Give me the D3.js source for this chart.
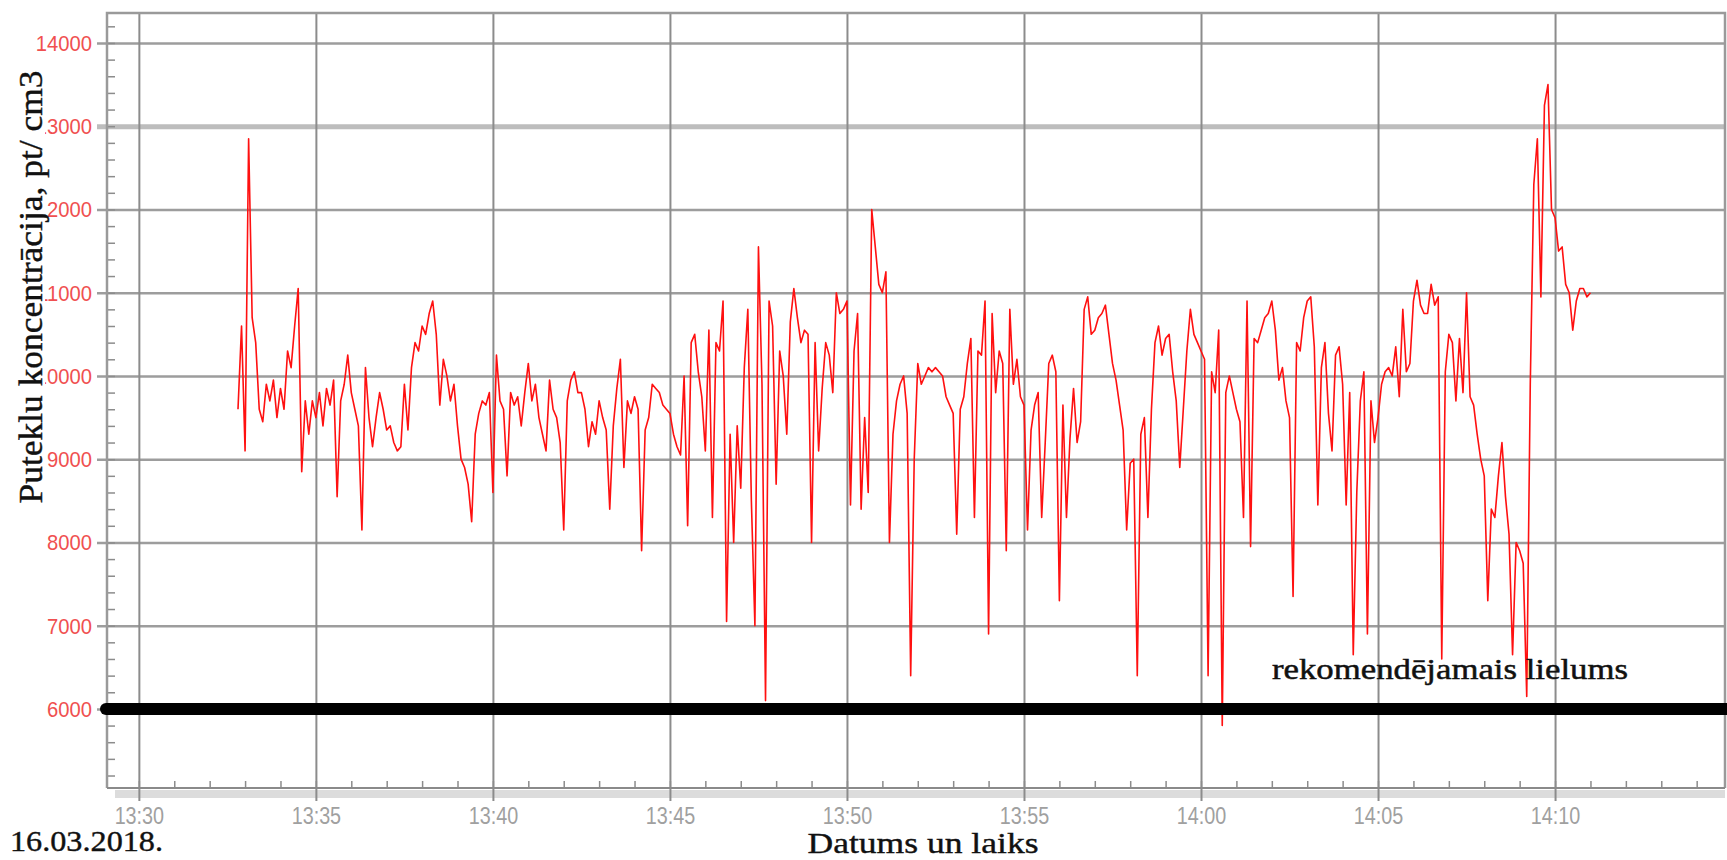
<!DOCTYPE html>
<html>
<head>
<meta charset="utf-8">
<script src="https://cdnjs.cloudflare.com/ajax/libs/d3/7.8.5/d3.min.js"></script>
<style>
    body { margin: 0; background: #fff; }
    svg { display: block; }
</style>
</head>
<body>
<div id="chart-holder"></div>
<script>
// measurement: dust particle concentration, one reading every 6 seconds
var measureDate = '16.03.2018.';
var startTime = '2018-03-16T13:32:48';
var sampleSeconds = 6;

// pt/cm3
var concentration = [
    9600, 10600, 9100, 12850, 10700, 10400, 9600, 9450, 9900, 9700,
    9950, 9500, 9850, 9600, 10300, 10100, 10600, 11050, 8850, 9700,
    9300, 9700, 9500, 9800, 9400, 9850, 9650, 9950, 8550, 9700,
    9900, 10250, 9800, 9600, 9400, 8150, 10100, 9500, 9150, 9500,
    9800, 9600, 9350, 9400, 9200, 9100, 9150, 9900, 9350, 10100,
    10400, 10300, 10600, 10500, 10750, 10900, 10500, 9650, 10200, 10000,
    9700, 9900, 9400, 9000, 8900, 8700, 8250, 9300, 9550, 9700,
    9650, 9800, 8600, 10250, 9700, 9600, 8800, 9800, 9650, 9750,
    9400, 9800, 10150, 9700, 9900, 9500, 9300, 9100, 9950, 9600,
    9500, 9200, 8150, 9700, 9950, 10050, 9800,
    9800, 9600, 9150, 9450, 9300, 9700, 9500, 9350, 8400, 9400,
    9850, 10200, 8900, 9700, 9550, 9750, 9600, 7900, 9350, 9500,
    9900, 9850, 9800, 9650, 9600, 9550, 9300, 9150, 9050, 10000,
    8200, 10400, 10500, 10050, 9750, 9100, 10550, 8300, 10400, 10300,
    10900, 7050, 9300, 8000, 9400, 8650, 10100, 10800, 8500, 7000,
    11550, 9900, 6100, 10900, 10600, 8700, 10300, 10000, 9300, 10650,
    11050, 10700, 10400, 10550, 10500, 8000, 10400, 9100, 9850, 10400,
    10250, 9800, 11000, 10750, 10800, 10900, 8450, 10300, 10750, 8400,
    9500, 8600, 12000, 11550, 11100, 11000, 11250, 8000, 9300, 9700,
    9900, 10000, 9550, 6400, 9000, 10150,
    9900, 10000, 10100, 10050, 10100, 10050, 10000, 9750, 9650, 9550,
    8100, 9600, 9750, 10150, 10450, 8300, 10300, 10250, 10900, 6900,
    10750, 9800, 10300, 10150, 7900, 10800, 9900, 10200, 9750, 9650,
    8150, 9350, 9650, 9800, 8300, 9200, 10150, 10250, 10050, 7300,
    9650, 8300, 9250, 9850, 9200, 9450, 10800, 10950, 10500, 10550,
    10700, 10750, 10850, 10500, 10150, 9950, 9650, 9350, 8150, 8950,
    9000, 6400, 9300, 9500, 8300, 9600, 10400, 10600, 10250, 10450,
    10500, 10050, 9700, 8900, 9600, 10300, 10800, 10500, 10400, 10300,
    10200, 6400, 10050, 9800, 10550, 5800, 9800, 10000, 9800, 9600,
    9450, 8300, 10900, 7950, 10450, 10400, 10550, 10700, 10750,
    10900, 10550, 9950, 10100, 9700, 9500, 7350, 10400, 10300, 10700,
    10900, 10950, 10350, 8450, 10100, 10400, 9550, 9100, 10250, 10350,
    9900, 8450, 9800, 6650, 8600, 9700, 10050, 6900, 9700, 9200,
    9500, 9900, 10050, 10100, 10000, 10350, 9750, 10800, 10050, 10150,
    10900, 11150, 10850, 10750, 10750, 11100, 10850, 10950, 6600, 10050,
    10500, 10400, 9700, 10450, 9800, 11000, 9750, 9650, 9300, 9000,
    8800, 7300, 8400, 8300, 8800, 9200, 8550, 8100, 6650, 8000,
    7900, 7750, 6150, 9900, 12300, 12850, 10950, 13250, 13500, 12000,
    11900, 11500, 11550, 11100, 11000, 10550, 10900, 11050, 11050, 10950,
    11000
];

// axis set-up
var yTicks = [6000, 7000, 8000, 9000, 10000, 11000, 12000, 13000, 14000];
var yView = [5050, 14360];
var timeView = ['2018-03-16T13:29:06', '2018-03-16T14:14:48'];
var recommendedLevel = 6000;

// texts
var xTitle = 'Datums un laiks';
var yTitle = 'Puteklu koncentrācija, pt/ cm3';
var levelLabel = 'rekomendējamais lielums';

function buildChart(containerId) {
    // size globals
    var width = 1727;
    var height = 860;

    var plot = {
        left: 107,
        right: 1725,
        top: 13,
        bottom: 788
    };

    var svg = d3
        .select(containerId)
        .append('svg')
        .attr('width', width)
        .attr('height', height)
        .style('background', '#fff');

    var parseTime = d3.timeParse('%Y-%m-%dT%H:%M:%S');
    var t0 = parseTime(startTime);

    var data = concentration.map(function(v, i) {
        return { time: new Date(t0.getTime() + i * sampleSeconds * 1000), value: v };
    });

    // scales
    var x = d3
        .scaleTime()
        .domain(timeView.map(parseTime))
        .range([plot.left, plot.right]);

    var y = d3
        .scaleLinear()
        .domain(yView)
        .range([plot.bottom, plot.top]);

    var sans = "'Liberation Sans', Arial, sans-serif";
    var serif = "'Liberation Serif', 'Times New Roman', serif";

    // light band under the time axis
    svg
        .append('rect')
        .attr('x', plot.left + 8)
        .attr('y', plot.bottom + 2)
        .attr('width', plot.right - plot.left - 8)
        .attr('height', 8)
        .attr('fill', '#dcdcdc');

    // horizontal grid
    svg
        .append('g')
        .attr('class', 'y-grid')
        .attr('transform', 'translate(' + (plot.left - 10) + ',0)')
        .call(
            d3.axisRight(y)
                .tickValues(yTicks)
                .tickSize(plot.right - plot.left + 10)
                .tickFormat('')
        )
        .call(function(g) {
            g.select('.domain').remove();
            g.selectAll('line')
                .attr('stroke', function(d) { return d === 13000 ? '#bdbdbd' : '#9d9d9d'; })
                .attr('stroke-width', function(d) { return d === 13000 ? 5 : 2.5; });
        });

    // vertical grid, one line every 5 minutes
    svg
        .append('g')
        .attr('class', 'x-grid')
        .attr('transform', 'translate(0,' + plot.top + ')')
        .call(
            d3.axisBottom(x)
                .ticks(d3.timeMinute.every(5))
                .tickSize(plot.bottom - plot.top + 13)
                .tickFormat('')
        )
        .call(function(g) {
            g.select('.domain').remove();
            g.selectAll('line').attr('stroke', '#8c8c8c').attr('stroke-width', 2);
        });

    // minor ticks on time axis, every minute
    svg
        .append('g')
        .attr('class', 'x-minor')
        .attr('transform', 'translate(0,' + plot.bottom + ')')
        .call(d3.axisTop(x).ticks(d3.timeMinute.every(1)).tickSize(7).tickFormat(''))
        .call(function(g) {
            g.select('.domain').remove();
            g.selectAll('line').attr('stroke', '#8c8c8c').attr('stroke-width', 1.5);
        });

    // minor ticks on value axis, every 200
    svg
        .append('g')
        .attr('class', 'y-minor')
        .attr('transform', 'translate(' + plot.left + ',0)')
        .call(
            d3.axisRight(y)
                .tickValues(d3.range(5200, 14360, 200))
                .tickSize(8)
                .tickFormat('')
        )
        .call(function(g) {
            g.select('.domain').remove();
            g.selectAll('line').attr('stroke', '#8c8c8c').attr('stroke-width', 1.5);
        });

    // frame
    svg
        .append('path')
        .attr('d', 'M' + plot.left + ',' + plot.bottom + 'V' + plot.top + 'H' + plot.right + 'V' + plot.bottom)
        .attr('fill', 'none')
        .attr('stroke', '#9a9a9a')
        .attr('stroke-width', 2.5);

    svg
        .append('line')
        .attr('x1', plot.left)
        .attr('x2', plot.right)
        .attr('y1', plot.bottom)
        .attr('y2', plot.bottom)
        .attr('stroke', '#8a8a8a')
        .attr('stroke-width', 2);

    // value labels (slightly condensed like the original)
    svg
        .append('g')
        .attr('class', 'y-labels')
        .selectAll('text')
        .data(yTicks)
        .enter()
        .append('text')
        .attr('transform', function(d) {
            return 'translate(' + (plot.left - 15) + ',' + y(d) + ') scale(0.92,1)';
        })
        .attr('dy', '0.36em')
        .attr('text-anchor', 'end')
        .style('font-family', sans)
        .style('font-size', '22px')
        .attr('fill', '#f05050')
        .text(function(d) { return d; });

    // time labels
    svg
        .append('g')
        .attr('class', 'x-labels')
        .attr('transform', 'translate(0,' + plot.bottom + ')')
        .call(
            d3.axisBottom(x)
                .ticks(d3.timeMinute.every(5))
                .tickSize(0)
                .tickPadding(20)
                .tickFormat(d3.timeFormat('%H:%M'))
        )
        .call(function(g) {
            g.select('.domain').remove();
            g.selectAll('text')
                .attr('fill', '#a0a0a0')
                .attr('transform', 'scale(0.86,1)')
                .style('font-family', sans)
                .style('font-size', '23px');
        });

    // measured series
    var line = d3
        .line()
        .x(function(d) { return x(d.time); })
        .y(function(d) { return y(d.value); });

    svg
        .append('path')
        .datum(data)
        .attr('class', 'series')
        .attr('fill', 'none')
        .attr('stroke', '#ff1010')
        .attr('stroke-width', 1.6)
        .attr('stroke-linejoin', 'round')
        .attr('d', line);

    // recommended level
    svg
        .append('line')
        .attr('x1', plot.left - 1)
        .attr('x2', width + 10)
        .attr('y1', y(recommendedLevel))
        .attr('y2', y(recommendedLevel))
        .attr('stroke', '#000')
        .attr('stroke-width', 12)
        .attr('stroke-linecap', 'round');

    svg
        .append('text')
        .attr('x', 1272)
        .attr('y', y(recommendedLevel) - 30)
        .style('font-family', serif)
        .style('font-size', '30px')
        .attr('textLength', 356)
        .attr('lengthAdjust', 'spacingAndGlyphs')
        .attr('fill', '#111')
        .attr('stroke', '#111')
        .attr('stroke-width', 0.5)
        .text(levelLabel);

    // axis titles
    svg
        .append('text')
        .attr('x', 923)
        .attr('y', 853)
        .attr('text-anchor', 'middle')
        .style('font-family', serif)
        .style('font-size', '30px')
        .attr('textLength', 231)
        .attr('lengthAdjust', 'spacingAndGlyphs')
        .attr('fill', '#111')
        .attr('stroke', '#111')
        .attr('stroke-width', 0.4)
        .text(xTitle);

    svg
        .append('text')
        .attr('x', 10)
        .attr('y', 851)
        .style('font-family', serif)
        .style('font-size', '30px')
        .attr('textLength', 153)
        .attr('lengthAdjust', 'spacingAndGlyphs')
        .attr('fill', '#111')
        .attr('stroke', '#111')
        .attr('stroke-width', 0.4)
        .text(measureDate);

    var yTitleG = svg
        .append('g')
        .attr('transform', 'translate(42,287) rotate(-90)');

    var yTitleBox = yTitleG.append('rect').attr('fill', '#fff');

    var yTitleText = yTitleG
        .append('text')
        .attr('text-anchor', 'middle')
        .style('font-family', serif)
        .style('font-size', '34px')
        .attr('textLength', 433)
        .attr('lengthAdjust', 'spacingAndGlyphs')
        .attr('fill', '#111')
        .attr('stroke', '#111')
        .attr('stroke-width', 0.4)
        .text(yTitle);

    // white box behind the title hides the leading digit of the labels it crosses
    var bb = yTitleText.node().getBBox();
    yTitleBox
        .attr('x', bb.x)
        .attr('y', bb.y + 4)
        .attr('width', bb.width)
        .attr('height', 3 - (bb.y + 4));
}

buildChart('#chart-holder');
</script>
</body>
</html>
